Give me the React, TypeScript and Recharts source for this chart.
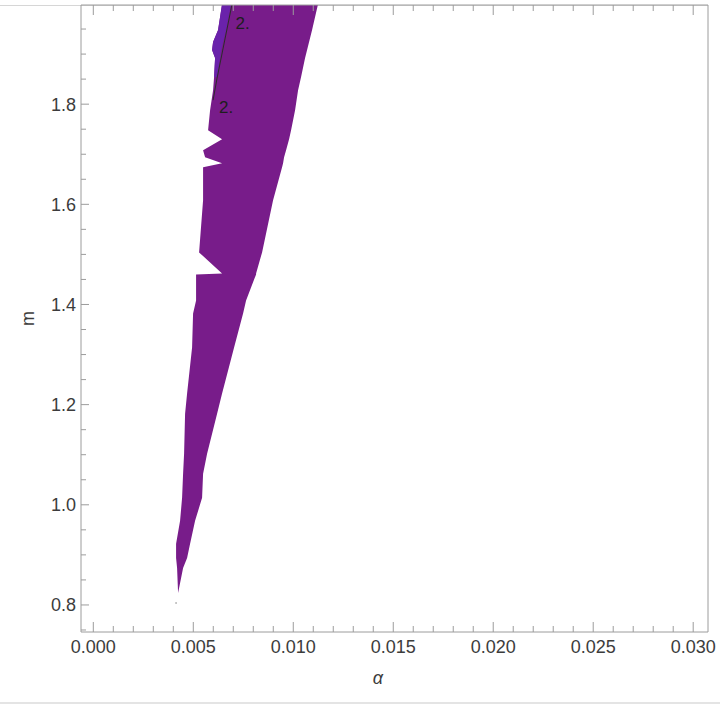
import React from "react";
import {
  ComposedChart,
  Area,
  Line,
  XAxis,
  YAxis,
  ReferenceDot,
  Label,
} from "recharts";

const FRAME = "#9c9c9c";
const TEXT = "#3c3c3c";
const PURPLE = "#781c8a";
const VIOLET = "#6a22ab";

// allowed region: for each m, the alpha interval [left, right]
const mLevels = [
  2.0, 1.948, 1.924, 1.908, 1.892, 1.854, 1.828, 1.788, 1.748, 1.73,
  1.708, 1.694, 1.682, 1.674, 1.608, 1.504, 1.462, 1.46, 1.408, 1.382,
  1.314, 1.222, 1.182, 1.102, 1.062, 1.014, 0.968, 0.922, 0.894, 0.874,
  0.824,
];
const leftEdge = [
  0.00644, 0.00624, 0.00599, 0.00594, 0.00609, 0.00604, 0.00599, 0.00584, 0.00574, 0.00644,
  0.00549, 0.00559, 0.00644, 0.00549, 0.00549, 0.00529, 0.00644, 0.00514, 0.00514, 0.00499,
  0.00494, 0.00469, 0.00459, 0.00454, 0.00449, 0.00444, 0.00434, 0.00414, 0.00414, 0.00419,
  0.00424,
];
const rightEdge = [
  0.01124, 0.01094, 0.01079, 0.01069, 0.01059, 0.01039, 0.01024, 0.01009, 0.00989, 0.00979,
  0.00964, 0.00954, 0.00949, 0.00944, 0.00899, 0.00844, 0.00814, 0.00814, 0.00764, 0.00749,
  0.00704, 0.00644, 0.00619, 0.00569, 0.00549, 0.00544, 0.00509, 0.00484, 0.00469, 0.00449,
  0.00424,
];

// thin second region at the top left edge
const sliverM = [2.0, 1.948, 1.924, 1.908, 1.892, 1.854];
const sliverLeft = [0.00644, 0.00624, 0.00599, 0.00594, 0.00609, 0.00604];
const sliverRight = [0.00689, 0.00664, 0.00649, 0.00639, 0.00634, 0.00619];

// contour line "2." and its labels
const contourM = [2.0, 1.852, 1.808];
const contourA = [0.00694, 0.00619, 0.00599];
const labelM = [1.962, 1.795];
const labelA = [0.00747, 0.00664];

const strayA = 0.00414;
const strayM = 0.804;

const xTicks = [
  0, 0.001, 0.002, 0.003, 0.004, 0.005, 0.006, 0.007, 0.008, 0.009, 0.01,
  0.011, 0.012, 0.013, 0.014, 0.015, 0.016, 0.017, 0.018, 0.019, 0.02,
  0.021, 0.022, 0.023, 0.024, 0.025, 0.026, 0.027, 0.028, 0.029, 0.03,
];
const xMajor = [0, 0.005, 0.01, 0.015, 0.02, 0.025, 0.03];
const yTicks = [
  0.75, 0.8, 0.85, 0.9, 0.95, 1.0, 1.05, 1.1, 1.15, 1.2, 1.25, 1.3, 1.35,
  1.4, 1.45, 1.5, 1.55, 1.6, 1.65, 1.7, 1.75, 1.8, 1.85, 1.9, 1.95,
];
const yMajor = [0.8, 1.0, 1.2, 1.4, 1.6, 1.8];

const X_DOMAIN: [number, number] = [-0.000615, 0.03074];
const Y_DOMAIN: [number, number] = [0.746, 1.998];

const mainRows = mLevels.map((m, i) => ({ m, band: [leftEdge[i], rightEdge[i]] }));
const sliverRows = sliverM.map((m, i) => ({ m, band: [sliverLeft[i], sliverRight[i]] }));
const contourRows = contourM.map((m, i) => ({ m, a: contourA[i] }));

const isIn = (list: number[], v: number) => list.some((t) => Math.abs(t - v) < 1e-9);

const BottomTick = (props: any) => {
  const { x, y, payload } = props;
  const major = isIn(xMajor, payload.value);
  return (
    <g>
      <line x1={x} x2={x} y1={y} y2={y - (major ? 10 : 6)} stroke={FRAME} />
      {major && (
        <text x={x} y={y + 21} textAnchor="middle" fill={TEXT} fontSize={18}>
          {payload.value.toFixed(3)}
        </text>
      )}
    </g>
  );
};

const TopTick = (props: any) => {
  const { x, y, payload } = props;
  const major = isIn(xMajor, payload.value);
  return <line x1={x} x2={x} y1={y} y2={y + (major ? 10 : 6)} stroke={FRAME} />;
};

const LeftTick = (props: any) => {
  const { x, y, payload } = props;
  const major = isIn(yMajor, payload.value);
  return (
    <g>
      <line x1={x} x2={x + (major ? 8 : 5)} y1={y} y2={y} stroke={FRAME} />
      {major && (
        <text x={x - 5} y={y + 6.5} textAnchor="end" fill={TEXT} fontSize={18}>
          {payload.value.toFixed(1)}
        </text>
      )}
    </g>
  );
};

const RightTick = (props: any) => {
  const { x, y, payload } = props;
  const major = isIn(yMajor, payload.value);
  return <line x1={x} x2={x - (major ? 8 : 5)} y1={y} y2={y} stroke={FRAME} />;
};

export default function App() {
  return (
    <div
      style={{
        position: "absolute",
        left: 0,
        top: 0,
        width: 720,
        height: 706,
        background: "#fff",
        fontFamily: "'Liberation Sans', Arial, sans-serif",
      }}
    >
      <div style={{ position: "absolute", left: 0, top: 5, width: 708, height: 1, background: "#d6d6d6" }} />
      <div style={{ position: "absolute", left: 0, top: 702, width: 720, height: 2, background: "#e4e4e4" }} />
      <div style={{ position: "absolute", left: 0, top: 0 }}>
        <ComposedChart
          width={720}
          height={706}
          layout="vertical"
          margin={{ top: 4, right: 11, bottom: 73, left: 80 }}
        >
          <XAxis
            type="number"
            domain={X_DOMAIN}
            allowDataOverflow
            ticks={xTicks}
            interval={0}
            height={1}
            tickSize={0}
            tickMargin={0}
            tickLine={false}
            axisLine={{ stroke: FRAME }}
            tick={<BottomTick />}
          >
            <Label
              content={(p: any) => (
                <text
                  x={p.viewBox.x + 297}
                  y={p.viewBox.y + 52}
                  textAnchor="middle"
                  fill={TEXT}
                  fontSize={18}
                  fontStyle="italic"
                >
                  α
                </text>
              )}
            />
          </XAxis>
          <XAxis
            xAxisId="top"
            orientation="top"
            type="number"
            domain={X_DOMAIN}
            allowDataOverflow
            ticks={xTicks}
            interval={0}
            height={1}
            tickSize={0}
            tickMargin={0}
            tickLine={false}
            axisLine={{ stroke: FRAME }}
            tick={<TopTick />}
          />
          <YAxis
            type="number"
            dataKey="m"
            domain={Y_DOMAIN}
            reversed
            allowDataOverflow
            ticks={yTicks}
            interval={0}
            width={1}
            tickSize={0}
            tickMargin={0}
            tickLine={false}
            axisLine={{ stroke: FRAME }}
            tick={<LeftTick />}
          >
            <Label
              content={(p: any) => {
                const cx = p.viewBox.x - 52;
                const cy = p.viewBox.y + p.viewBox.height / 2;
                return (
                  <text
                    x={cx}
                    y={cy}
                    textAnchor="middle"
                    dominantBaseline="central"
                    fill={TEXT}
                    fontSize={18}
                    transform={`rotate(-90 ${cx} ${cy})`}
                  >
                    m
                  </text>
                );
              }}
            />
          </YAxis>
          <YAxis
            yAxisId="right"
            orientation="right"
            type="number"
            domain={Y_DOMAIN}
            reversed
            allowDataOverflow
            ticks={yTicks}
            interval={0}
            width={1}
            tickSize={0}
            tickMargin={0}
            tickLine={false}
            axisLine={{ stroke: FRAME }}
            tick={<RightTick />}
          />
          <Area
            data={mainRows}
            dataKey="band"
            type="linear"
            stroke="none"
            fill={PURPLE}
            fillOpacity={1}
            isAnimationActive={false}
          />
          <Area
            data={sliverRows}
            dataKey="band"
            type="linear"
            stroke="none"
            fill={VIOLET}
            fillOpacity={1}
            isAnimationActive={false}
          />
          <Line
            data={contourRows}
            dataKey="a"
            type="linear"
            stroke="#2b2b2b"
            strokeWidth={1}
            dot={false}
            isAnimationActive={false}
          />
          {labelM.map((m, i) => (
            <ReferenceDot
              key={i}
              x={labelA[i]}
              y={m}
              r={0}
              stroke="none"
              fill="none"
              label={{ value: "2.", position: "center", fill: "#1e1e1e", fontSize: 17 }}
            />
          ))}
          <ReferenceDot x={strayA} y={strayM} r={1} stroke="none" fill="#b8b8b8" />
        </ComposedChart>
      </div>
    </div>
  );
}
